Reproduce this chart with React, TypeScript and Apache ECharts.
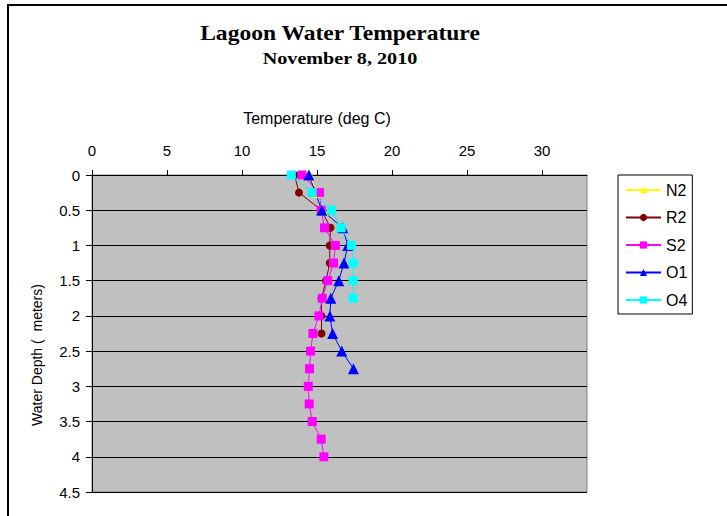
import React, { useEffect, useRef } from "react";
import * as echarts from "echarts";

// Depth (m) and temperature (deg C) for each station
const N2_DEPTH = [0, 0.25, 0.5];
const N2_TEMP = [14.5, 15.0, 15.4];

const R2_DEPTH = [0, 0.25, 0.5, 0.75, 1, 1.25, 1.5, 1.75, 2, 2.25];
const R2_TEMP = [13.5, 13.8, 15.3, 15.9, 15.85, 15.85, 15.6, 15.3, 15.3, 15.3];

const S2_DEPTH = [0, 0.25, 0.5, 0.75, 1, 1.25, 1.5, 1.75, 2, 2.25, 2.5, 2.75, 3, 3.25, 3.5, 3.75, 4];
const S2_TEMP = [14.0, 15.17, 15.28, 15.5, 16.23, 16.1, 15.72, 15.35, 15.13, 14.73, 14.57, 14.5, 14.42, 14.48, 14.68, 15.28, 15.46];

const O1_DEPTH = [0, 0.5, 0.75, 1, 1.25, 1.5, 1.75, 2, 2.25, 2.5, 2.75];
const O1_TEMP = [14.46, 15.32, 16.72, 17.05, 16.8, 16.45, 15.92, 15.86, 16.04, 16.65, 17.43];

const O4_DEPTH = [0, 0.25, 0.5, 0.75, 1, 1.25, 1.5, 1.75];
const O4_TEMP = [13.29, 14.68, 15.97, 16.61, 17.3, 17.41, 17.41, 17.41];

const X_TICKS = [0, 5, 10, 15, 20, 25, 30];

const TITLE = "Lagoon Water Temperature";
const SUBTITLE = "November 8, 2010";
const X_TITLE = "Temperature (deg C)";
const Y_TITLE = "Water Depth (  meters)";

const pair = (t: number[], d: number[]) => t.map((v, i) => [v, d[i]]);

const FONT = "'Liberation Sans', Arial, sans-serif";

export default function App() {
  const ref = useRef<HTMLDivElement>(null);
  useEffect(() => {
    if (!ref.current) return;
    const chart = echarts.init(ref.current, null, { renderer: "svg" });
    const mk = (name: string, t: number[], d: number[], color: string, symbol: string, size: number) => ({
      name,
      type: "line",
      data: pair(t, d),
      symbol,
      symbolSize: size,
      showAllSymbol: true,
      lineStyle: { color, width: 1 },
      itemStyle: { color },
      emphasis: { disabled: true },
    });
    chart.setOption({
      animation: false,
      backgroundColor: "#ffffff",
      textStyle: { fontFamily: FONT },
      grid: {
        left: 92,
        top: 175,
        width: 495,
        height: 317,
        show: true,
        backgroundColor: "#C0C0C0",
        borderColor: "#808080",
        borderWidth: 1,
      },
      xAxis: {
        type: "value",
        position: "top",
        min: 0,
        max: 33,
        interval: 5,
        axisLine: { show: true, lineStyle: { color: "#000", width: 1 } },
        axisTick: { show: true, inside: false, length: 5, lineStyle: { color: "#000" }, customValues: X_TICKS },
        axisLabel: { color: "#000", fontSize: 15, fontFamily: FONT, margin: 17, customValues: X_TICKS },
        splitLine: { show: false },
      },
      yAxis: {
        type: "value",
        inverse: true,
        min: 0,
        max: 4.5,
        interval: 0.5,
        axisLine: { show: true, lineStyle: { color: "#000", width: 1 } },
        axisTick: { show: true, inside: false, length: 6, lineStyle: { color: "#000" } },
        axisLabel: { color: "#000", fontSize: 15, fontFamily: FONT, margin: 12 },
        splitLine: { show: true, lineStyle: { color: "#000", width: 1 } },
      },
      legend: {
        orient: "vertical",
        left: 618,
        top: 175,
        padding: [7, 5, 6, 7],
        itemGap: 11.5,
        itemWidth: 35,
        itemHeight: 9,
        borderColor: "#000",
        borderWidth: 1,
        backgroundColor: "#fff",
        textStyle: { color: "#000", fontSize: 16, fontFamily: FONT, padding: [0, 0, 0, 0] },
        data: ["N2", "R2", "S2", "O1", "O4"],
      },
      series: [
        mk("N2", N2_TEMP, N2_DEPTH, "#FFFF00", "triangle", 11),
        mk("R2", R2_TEMP, R2_DEPTH, "#800000", "circle", 8),
        mk("S2", S2_TEMP, S2_DEPTH, "#FF00FF", "rect", 9),
        mk("O1", O1_TEMP, O1_DEPTH, "#0000FF", "triangle", 11),
        mk("O4", O4_TEMP, O4_DEPTH, "#00FFFF", "rect", 9),
      ],
      graphic: [
        {
          type: "rect",
          shape: { x: 8, y: 5, width: 800, height: 600 },
          style: { fill: "none", stroke: "#000", lineWidth: 2 },
          silent: true,
        },
        {
          type: "text",
          x: 340,
          y: 33,
          scaleX: 1.07,
          style: {
            text: TITLE,
            fontFamily: "'Liberation Serif', 'Times New Roman', serif",
            fontWeight: "bold",
            fontSize: 22,
            fill: "#000",
            textAlign: "center",
            textVerticalAlign: "middle",
          },
        },
        {
          type: "text",
          x: 340,
          y: 59,
          scaleX: 1.26,
          style: {
            text: SUBTITLE,
            fontFamily: "'Liberation Serif', 'Times New Roman', serif",
            fontWeight: "bold",
            fontSize: 16,
            fill: "#000",
            textAlign: "center",
            textVerticalAlign: "middle",
          },
        },
        {
          type: "text",
          x: 317,
          y: 118,
          style: {
            text: X_TITLE,
            fontFamily: FONT,
            fontSize: 16,
            fill: "#000",
            textAlign: "center",
            textVerticalAlign: "middle",
          },
        },
        {
          type: "text",
          x: 37,
          y: 355,
          rotation: Math.PI / 2,
          style: {
            text: Y_TITLE,
            fontFamily: FONT,
            fontSize: 14,
            fill: "#000",
            textAlign: "center",
            textVerticalAlign: "middle",
          },
        },
      ],
    });
    return () => chart.dispose();
  }, []);
  return (
    <div
      ref={ref}
      style={{ position: "absolute", left: 0, top: 0, width: 727, height: 516 }}
    />
  );
}
